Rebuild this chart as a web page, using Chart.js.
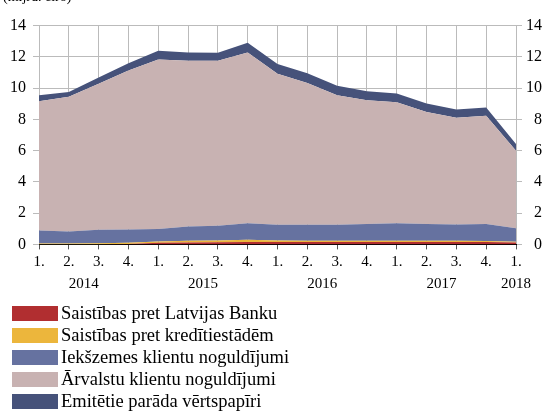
<!DOCTYPE html>
<html>
<head>
<meta charset="utf-8">
<script src="https://cdn.jsdelivr.net/npm/chart.js@4/dist/chart.umd.min.js"></script>
<style>
html,body{margin:0;padding:0;background:#fff;}
#wrap{position:relative;width:542px;height:415px;}
</style>
</head>
<body>
<div id="wrap"><canvas id="c" width="542" height="415"></canvas></div>
<script>
const quarters = ['1.','2.','3.','4.','1.','2.','3.','4.','1.','2.','3.','4.','1.','2.','3.','4.','1.'];
const years = ['2014','2015','2016','2017','2018'];
const yearPositions = [1.5, 5.5, 9.5, 13.5, 16];
const unitLabel = '(mljrd. eiro)';

const seriesNames = [
  'Saistības pret Latvijas Banku',
  'Saistības pret kredītiestādēm',
  'Iekšzemes klientu noguldījumi',
  'Ārvalstu klientu noguldījumi',
  'Emitētie parāda vērtspapīri'
];
const latvijasBanka = [0, 0, 0, 0.02, 0.10, 0.12, 0.13, 0.15, 0.15, 0.15, 0.15, 0.15, 0.15, 0.15, 0.15, 0.15, 0.12];
const kreditiestades = [0.05, 0.05, 0.07, 0.08, 0.08, 0.12, 0.12, 0.15, 0.10, 0.08, 0.08, 0.08, 0.08, 0.08, 0.08, 0.06, 0.05];
const iekszemes = [0.84, 0.77, 0.86, 0.85, 0.81, 0.90, 0.95, 1.05, 1.00, 1.02, 1.02, 1.08, 1.12, 1.08, 1.04, 1.10, 0.87];
const arvalstu = [8.27, 8.63, 9.35, 10.17, 10.83, 10.61, 10.55, 10.93, 9.67, 9.07, 8.29, 7.91, 7.74, 7.15, 6.83, 6.92, 4.95];
const vertspapiri = [0.38, 0.30, 0.40, 0.46, 0.56, 0.53, 0.51, 0.61, 0.61, 0.63, 0.61, 0.57, 0.56, 0.55, 0.53, 0.53, 0.43];
const colors = ['#B12E30', '#ECB63C', '#6672A0', '#C8B2B2', '#46527A'];

const serif = '"Liberation Serif", "Times New Roman", serif';
const allSeries = [latvijasBanka, kreditiestades, iekszemes, arvalstu, vertspapiri];

const datasets = allSeries.map((d, i) => ({
  label: seriesNames[i],
  data: d,
  backgroundColor: colors[i],
  borderColor: colors[i],
  borderWidth: 0,
  pointRadius: 0,
  tension: 0,
  fill: i === 0 ? 'origin' : '-1'
}));

const legendPlugin = {
  id: 'customLegend',
  afterDraw(chart) {
    const ctx = chart.ctx;
    ctx.save();
    ctx.font = '18.5px ' + serif;
    ctx.textBaseline = 'middle';
    seriesNames.forEach((n, i) => {
      const y = 306 + i * 22;
      ctx.fillStyle = colors[i];
      ctx.fillRect(12, y, 46, 15);
      ctx.fillStyle = '#000';
      ctx.fillText(n, 61, y + 8);
    });
    ctx.font = '14px ' + serif;
    ctx.textBaseline = 'alphabetic';
    ctx.fillText(unitLabel, 3, 1);
    ctx.restore();
  }
};

new Chart(document.getElementById('c'), {
  type: 'line',
  data: { labels: quarters, datasets },
  plugins: [legendPlugin],
  options: {
    responsive: false,
    animation: false,
    layout: { padding: { top: 25.5, bottom: 118.3, left: 0, right: 0 } },
    plugins: { legend: { display: false }, tooltip: { enabled: false } },
    scales: {
      x: {
        type: 'category',
        position: 'bottom',
        weight: 0,
        offset: false,
        grid: { color: '#BBBBBB', lineWidth: 1, tickLength: 5, tickColor: '#555' },
        border: { display: true, color: '#000', width: 1 },
        ticks: { color: '#000', font: { family: serif, size: 15 }, padding: 4, maxRotation: 0, autoSkip: false },
        afterFit(s) { s.height = 30.3; }
      },
      x2: {
        type: 'linear',
        position: 'bottom',
        weight: 1,
        min: 0, max: 16,
        grid: { display: false, drawTicks: false },
        border: { display: false },
        afterBuildTicks(s) { s.ticks = yearPositions.map(v => ({ value: v })); },
        ticks: {
          color: '#000', font: { family: serif, size: 15 }, padding: 0, maxRotation: 0, autoSkip: false,
          callback(v) { const k = yearPositions.indexOf(v); return k >= 0 ? years[k] : ''; }
        },
        afterFit(s) { s.height = 22; }
      },
      y: {
        position: 'left',
        stacked: true,
        min: 0, max: 14,
        ticks: { stepSize: 2, color: '#000', font: { family: serif, size: 16 }, padding: 7 },
        grid: { color: '#BBBBBB', tickLength: 6 },
        border: { display: false },
        afterFit(s) { s.width = 39; }
      },
      y2: {
        position: 'right',
        min: 0, max: 14,
        ticks: { stepSize: 2, color: '#000', font: { family: serif, size: 16 }, padding: 2, crossAlign: 'far' },
        grid: { drawOnChartArea: false, color: '#BBBBBB', tickLength: 6 },
        border: { display: false },
        afterFit(s) { s.width = 26; }
      }
    }
  }
});
</script>
</body>
</html>
